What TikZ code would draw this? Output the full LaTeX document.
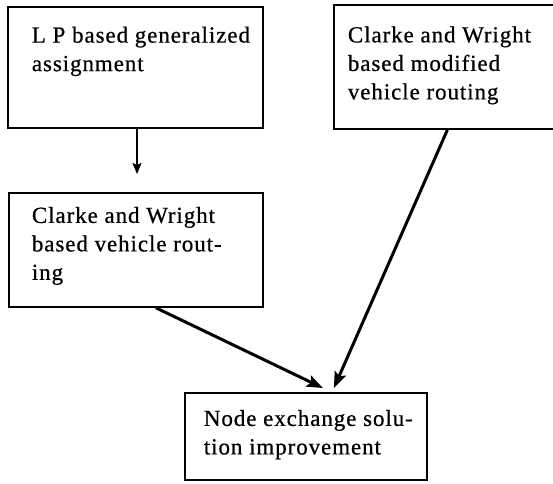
\documentclass[tikz,border=0pt]{standalone}
\usepackage{fontspec}
\setmainfont{Liberation Serif}[LetterSpace=4,FakeBold=0.6]
\usetikzlibrary{arrows.meta,calc}
\newcommand\boxtxt[5]{\begin{minipage}[t][#2][t]{#1}\raggedright\leftskip=#3\relax\rule{0pt}{#4}#5\end{minipage}}
\begin{document}
\begin{tikzpicture}[x=1pt,y=-1pt,
  box/.style={draw, line width=1.8pt, inner sep=0pt, anchor=north west,
    font=\fontsize{23}{28.5}\selectfont},
  thinarrow/.style={line width=1.5pt, -{Stealth[length=11pt,width=9pt,inset=2pt]}},
  thickarrow/.style={line width=3pt, -{Stealth[length=16pt,width=12pt,inset=3pt]}}]
\useasboundingbox (0,0) rectangle (553,483);
\clip (0,0) rectangle (553,483);
\fill[white] (0,0) rectangle (553,483);
\node[box] (a) at (7,6) {\boxtxt{255pt}{121pt}{24pt}{35.7pt}{L P based generalized\\assignment}};
\node[box] (b) at (333,4) {\boxtxt{227pt}{124pt}{14pt}{37.5pt}{Clarke and Wright\\based modified\\vehicle routing}};
\node[box] (c) at (8,192) {\boxtxt{254pt}{114pt}{23pt}{30pt}{Clarke and Wright\\based vehicle rout-\\ing}};
\node[box] (d) at (184,392) {\boxtxt{242pt}{87pt}{19pt}{33pt}{Node exchange solu-\\tion improvement}};
\coordinate (acx) at (137,0);
\draw[thinarrow, shorten >=18pt] (a.south -| acx) -- (c.north -| acx);
\draw[thickarrow] ($(c.south)+(20,0)$) -- ($(d.north)+(17,-4)$);
\draw[thickarrow] (b.south) -- ($(d.north)+(28,-4)$);
\end{tikzpicture}
\end{document}
